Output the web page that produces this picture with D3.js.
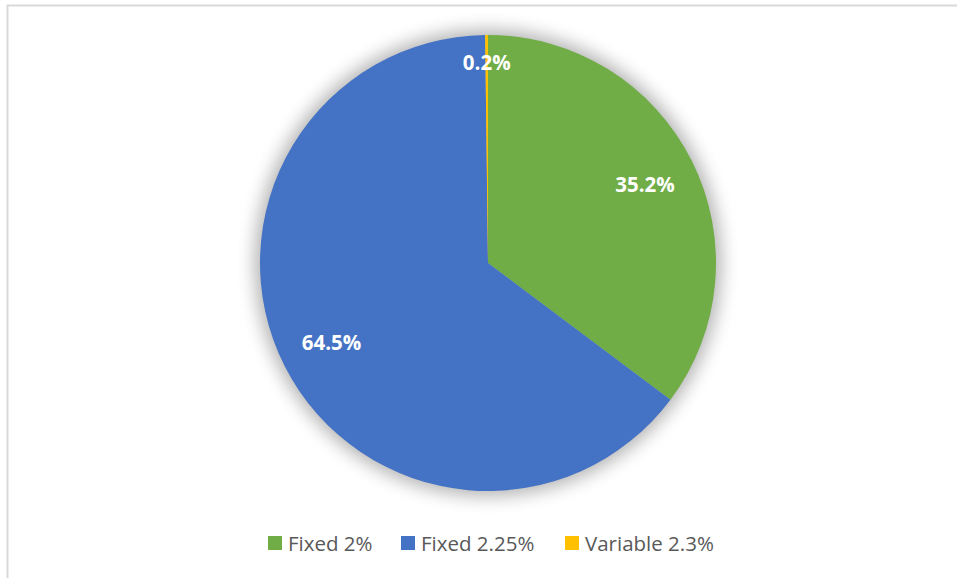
<!DOCTYPE html>
<html>
<head>
<meta charset="utf-8">
<script src="https://cdn.jsdelivr.net/npm/d3@7"></script>
<style>
  body { margin: 0; background: #fff; }
  svg { display: block; }
</style>
</head>
<body>
<div id="chart"></div>
<script>
// data
var categories = ["Fixed 2%", "Fixed 2.25%", "Variable 2.3%"];
var shares = [35.2, 64.5, 0.2];
var colors = ["#70ad47", "#4472c4", "#ffc000"];

var W = 957, H = 578;
var cx = 488, cy = 263, radius = 228;

var svg = d3.select("#chart").append("svg")
    .attr("width", W)
    .attr("height", H);

// chart frame (only top and left edges show)
svg.append("rect")
    .attr("x", 7.5).attr("y", 5.5)
    .attr("width", 960).attr("height", 600)
    .attr("fill", "none")
    .attr("stroke", "#d9d9d9")
    .attr("stroke-width", 2);

// soft shadow round the pie
var defs = svg.append("defs");
defs.append("filter")
    .attr("id", "glow")
    .attr("x", "-30%").attr("y", "-30%")
    .attr("width", "160%").attr("height", "160%")
    .append("feGaussianBlur")
    .attr("stdDeviation", 9);

var g = svg.append("g")
    .attr("transform", "translate(" + cx + "," + cy + ")");

g.append("circle")
    .attr("r", radius + 5)
    .attr("fill", "#000")
    .attr("opacity", 0.3)
    .attr("filter", "url(#glow)");

var pie = d3.pie().sort(null).value(function (d) { return d; });
var arcs = pie(shares);

var arc = d3.arc().innerRadius(0).outerRadius(radius);

g.selectAll("path.slice")
    .data(arcs)
    .join("path")
    .attr("class", "slice")
    .attr("d", arc)
    .attr("fill", function (d, i) { return colors[i]; });

// labels: most sit at 0.77r, the tiny slice is pushed out near the rim
var labelR = [0.77, 0.77, 0.88];
g.selectAll("text.lbl")
    .data(arcs)
    .join("text")
    .attr("class", "lbl")
    .attr("transform", function (d, i) {
        var a = (d.startAngle + d.endAngle) / 2;
        var r = radius * labelR[i];
        return "translate(" + (Math.sin(a) * r) + "," + (-Math.cos(a) * r) + ")";
    })
    .attr("text-anchor", "middle")
    .attr("dy", "0.36em")
    .attr("fill", "#fff")
    .attr("font-family", "'Open Sans', sans-serif")
    .attr("font-weight", "bold")
    .attr("font-size", "20.5px")
    .text(function (d, i) { return shares[i].toFixed(1) + "%"; });

// legend
var legendX = [268, 401, 565];
var legend = svg.append("g");
var items = legend.selectAll("g")
    .data(categories)
    .join("g")
    .attr("transform", function (d, i) { return "translate(" + legendX[i] + ",536)"; });

items.append("rect")
    .attr("width", 14).attr("height", 14)
    .attr("fill", function (d, i) { return colors[i]; });

items.append("text")
    .attr("x", 20)
    .attr("y", 14.5)
    .attr("fill", "#595959")
    .attr("font-family", "'Open Sans', sans-serif")
    .attr("font-size", "20.5px")
    .text(function (d) { return d; });
</script>
</body>
</html>
